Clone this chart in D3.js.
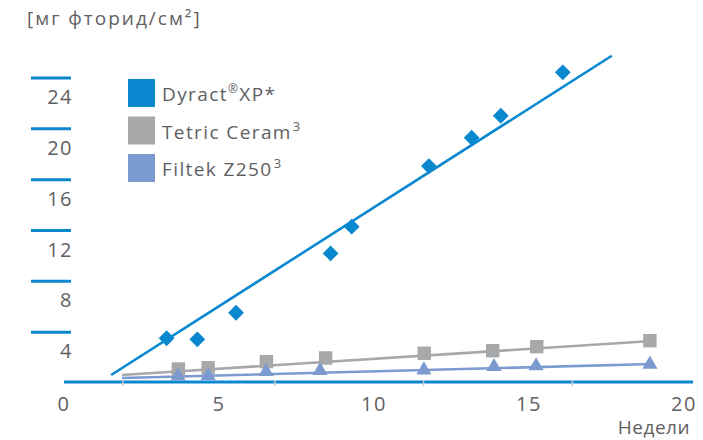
<!DOCTYPE html>
<html>
<head>
<meta charset="utf-8">
<script src="https://cdn.jsdelivr.net/npm/d3@7"></script>
<style>
  body { margin: 0; background: #fff; }
  text { font-family: "Open Sans", "Noto Sans", sans-serif; fill: #5f6062; }
</style>
</head>
<body>
<svg id="chart" width="703" height="440"></svg>
<script>
// data
const dyractX = [3.31, 4.30, 5.55, 8.60, 9.28, 11.77, 13.15, 14.09, 16.09];
const dyractY = [3.52, 3.44, 5.53, 10.20, 12.30, 17.07, 19.30, 21.03, 24.45];
const dyractFit = [[1.52, 0.63], [17.67, 25.75]];

const tetricX = [3.69, 4.65, 6.53, 8.44, 11.62, 13.83, 15.25, 18.90];
const tetricY = [1.10, 1.20, 1.68, 1.97, 2.34, 2.54, 2.86, 3.33];
const tetricFit = [[1.87, 0.63], [18.97, 3.30]];

const filtekX = [3.68, 4.65, 6.52, 8.26, 11.61, 13.87, 15.23, 18.90];
const filtekY = [0.55, 0.59, 0.89, 0.98, 1.02, 1.28, 1.34, 1.47];
const filtekFit = [[1.87, 0.39], [18.97, 1.49]];

const xTicks = [0, 5, 10, 15, 20];
const xMinorTicks = [1.9, 6.8, 11.6, 16.4];
const yTicks = [4, 8, 12, 16, 20, 24];

const blue = "#0a88cf", grey = "#a7a8aa", lightBlue = "#7b9bd0";

const svg = d3.select("#chart");
const x = d3.scaleLinear().domain([0, 20]).range([64, 684]);
const y = d3.scaleLinear().domain([0, 24]).range([383, 78]);

// y title
svg.append("text").attr("x", 27).attr("y", 25)
  .style("font-size", "19px").style("letter-spacing", "2px")
  .text("[мг фторид/см²]");

// y ticks: short bars with the label below
const yt = svg.append("g").selectAll("g").data(yTicks).enter().append("g");
yt.append("line")
  .attr("x1", 31).attr("x2", 71)
  .attr("y1", d => y(d)).attr("y2", d => y(d))
  .attr("stroke", blue).attr("stroke-width", 3);
yt.append("text")
  .attr("x", 73).attr("y", d => y(d) + 26)
  .attr("text-anchor", "end")
  .style("font-size", "20px").style("letter-spacing", "1.5px")
  .text(d => d);

// x axis
svg.append("line")
  .attr("x1", 64).attr("x2", 693)
  .attr("y1", y(0) - 1).attr("y2", y(0) - 1)
  .attr("stroke", blue).attr("stroke-width", 3);
svg.append("g").selectAll("line").data(xMinorTicks).enter().append("line")
  .attr("x1", d => x(d)).attr("x2", d => x(d))
  .attr("y1", y(0) - 3).attr("y2", y(0) + 3)
  .attr("stroke", "#c8c8c8").attr("stroke-width", 1.5);
svg.append("g").selectAll("text").data(xTicks).enter().append("text")
  .attr("x", d => x(d)).attr("y", 411)
  .attr("text-anchor", "middle")
  .style("font-size", "20px").style("letter-spacing", "1.5px")
  .text(d => d);
svg.append("text").attr("x", 690).attr("y", 434)
  .attr("text-anchor", "end").style("font-size", "19px").style("letter-spacing", "0.5px")
  .text("Недели");

// trend lines
const line = d3.line().x(d => x(d[0])).y(d => y(d[1]));
[[dyractFit, blue], [tetricFit, grey], [filtekFit, lightBlue]].forEach(([f, c]) => {
  svg.append("path").attr("d", line(f))
    .attr("fill", "none").attr("stroke", c).attr("stroke-width", 2.6);
});

// markers
const zip = (xs, ys) => xs.map((v, i) => [v, ys[i]]);

svg.append("g").selectAll("path").data(zip(tetricX, tetricY)).enter().append("path")
  .attr("d", d3.symbol(d3.symbolSquare, 180))
  .attr("transform", d => `translate(${x(d[0])},${y(d[1])})`)
  .attr("fill", grey);

svg.append("g").selectAll("path").data(zip(filtekX, filtekY)).enter().append("path")
  .attr("d", d3.symbol(d3.symbolTriangle, 100))
  .attr("transform", d => `translate(${x(d[0])},${y(d[1])})`)
  .attr("fill", lightBlue);

svg.append("g").selectAll("path").data(zip(dyractX, dyractY)).enter().append("path")
  .attr("d", d3.symbol(d3.symbolSquare, 125))
  .attr("transform", d => `translate(${x(d[0])},${y(d[1])}) rotate(45)`)
  .attr("fill", blue);

// legend
const legend = [
  { name: "Dyract", sup: "®", rest: "XP*", sup2: "", color: blue },
  { name: "Tetric Ceram", sup: "", rest: "", sup2: "3", color: grey },
  { name: "Filtek Z250", sup: "", rest: "", sup2: "3", color: lightBlue }
];
const lg = svg.append("g").selectAll("g").data(legend).enter().append("g")
  .attr("transform", (d, i) => `translate(128,${79 + i * 37.5})`);
lg.append("rect").attr("width", 27).attr("height", 28).attr("fill", d => d.color);
const lt = lg.append("text").attr("x", 34).attr("y", 22)
  .style("font-size", "19px").style("letter-spacing", "1.4px");
lt.append("tspan").text(d => d.name);
lt.append("tspan").attr("dy", -8).style("font-size", "12px").text(d => d.sup);
lt.append("tspan").attr("dy", d => d.sup ? 8 : 0).text(d => d.rest);
lt.append("tspan").attr("dx", 1).attr("dy", -8).style("font-size", "13px").text(d => d.sup2);
</script>
</body>
</html>
